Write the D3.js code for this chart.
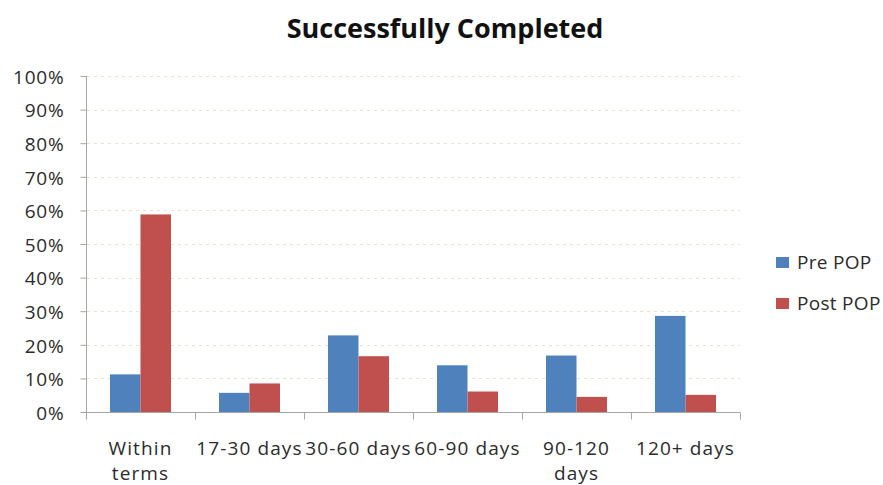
<!DOCTYPE html>
<html>
<head>
<meta charset="utf-8">
<script src="https://cdn.jsdelivr.net/npm/d3@7"></script>
<style>
  html, body { margin: 0; padding: 0; background: #fff; }
  svg { display: block; font-family: "Open Sans", Lato, "Liberation Sans", sans-serif; }
</style>
</head>
<body>
<svg id="chart" width="883" height="485"></svg>
<script>
// Share of cases successfully completed, by time to completion
const categories = [["Within", "terms"], ["17-30 days"], ["30-60 days"], ["60-90 days"], ["90-120", "days"], ["120+ days"]];
const seriesNames = ["Pre POP", "Post POP"];
const prePop  = [11.2, 5.7, 22.8, 13.9, 16.8, 28.6];
const postPop = [58.8, 8.5, 16.6, 6.1, 4.5, 5.1];
const yTicks = [0, 10, 20, 30, 40, 50, 60, 70, 80, 90, 100];
const colors = ["#4F81BD", "#C0504D"];

const svg = d3.select("#chart");
const plotLeft = 86, plotRight = 740, plotTop = 76, plotBottom = 412;
const textColor = "#2b2b2b";

const catKeys = categories.map(c => c.join(" "));
const x0 = d3.scaleBand().domain(catKeys).range([plotLeft, plotRight]);
const x1 = d3.scaleBand().domain(seriesNames).range([24, 85]);
const y = d3.scaleLinear().domain([0, 100]).range([plotBottom, plotTop]);

// Title
svg.append("text")
  .attr("x", 445).attr("y", 38)
  .attr("text-anchor", "middle")
  .attr("font-size", 27).attr("font-weight", "bold").attr("fill", "#111")
  .text("Successfully Completed");

// Dotted gridlines
svg.append("g").selectAll("line")
  .data(yTicks.filter(t => t > 0))
  .join("line")
  .attr("x1", plotLeft + 1).attr("x2", plotRight)
  .attr("y1", d => Math.round(y(d)) + 0.5).attr("y2", d => Math.round(y(d)) + 0.5)
  .attr("stroke", "#e6e3c8").attr("stroke-width", 1)
  .attr("stroke-dasharray", "3,4");

// Y axis
const yAxis = d3.axisLeft(y).tickValues(yTicks).tickSize(6).tickPadding(16)
  .tickFormat(d => d + "%");
const gy = svg.append("g").attr("transform", `translate(${plotLeft + 0.5},0)`).call(yAxis);
gy.select(".domain").attr("stroke", "#a6a6a6").attr("d", `M0,${plotTop}V${plotBottom}`);
gy.selectAll(".tick line").attr("stroke", "#a6a6a6");
gy.selectAll(".tick text")
  .attr("font-size", 19).attr("fill", textColor)
  .attr("letter-spacing", 0.8)
  .attr("font-family", "'Open Sans', Lato, sans-serif")
  .attr("dy", "0.38em");

// Bars
const groups = svg.append("g").selectAll("g")
  .data(catKeys)
  .join("g")
  .attr("transform", d => `translate(${x0(d)},0)`);

groups.selectAll("rect")
  .data((d, i) => [
    { s: seriesNames[0], v: prePop[i] },
    { s: seriesNames[1], v: postPop[i] }
  ])
  .join("rect")
  .attr("x", d => x1(d.s))
  .attr("width", x1.bandwidth())
  .attr("y", d => y(d.v))
  .attr("height", d => y(0) - y(d.v))
  .attr("fill", (d, i) => colors[i]);

// X axis
const gx = svg.append("g").attr("transform", `translate(0,${plotBottom + 0.5})`);
gx.append("line").attr("x1", plotLeft).attr("x2", plotRight).attr("stroke", "#a6a6a6");
gx.selectAll(".tk")
  .data(d3.range(catKeys.length + 1))
  .join("line")
  .attr("class", "tk")
  .attr("x1", i => Math.round(plotLeft + i * x0.bandwidth()) + 0.5)
  .attr("x2", i => Math.round(plotLeft + i * x0.bandwidth()) + 0.5)
  .attr("y1", 0).attr("y2", 7)
  .attr("stroke", "#a6a6a6");

const labels = svg.append("g").selectAll("text")
  .data(categories)
  .join("text")
  .attr("x", (d, i) => x0(catKeys[i]) + x0.bandwidth() / 2)
  .attr("y", 455)
  .attr("text-anchor", "middle")
  .attr("font-size", 19).attr("fill", textColor)
  .attr("letter-spacing", 1.1);
labels.selectAll("tspan")
  .data(d => d)
  .join("tspan")
  .attr("x", function () { return d3.select(this.parentNode).attr("x"); })
  .attr("dy", (d, i) => i === 0 ? 0 : 25)
  .text(d => d);

// Legend
const legend = svg.append("g").selectAll("g")
  .data(seriesNames)
  .join("g")
  .attr("transform", (d, i) => `translate(776,${257 + i * 41})`);
legend.append("rect")
  .attr("width", 13).attr("height", 11)
  .attr("fill", (d, i) => colors[i]);
legend.append("text")
  .attr("x", 21).attr("y", 12)
  .attr("font-size", 19).attr("fill", textColor)
  .attr("letter-spacing", 0.3)
  .text(d => d);
</script>
</body>
</html>
